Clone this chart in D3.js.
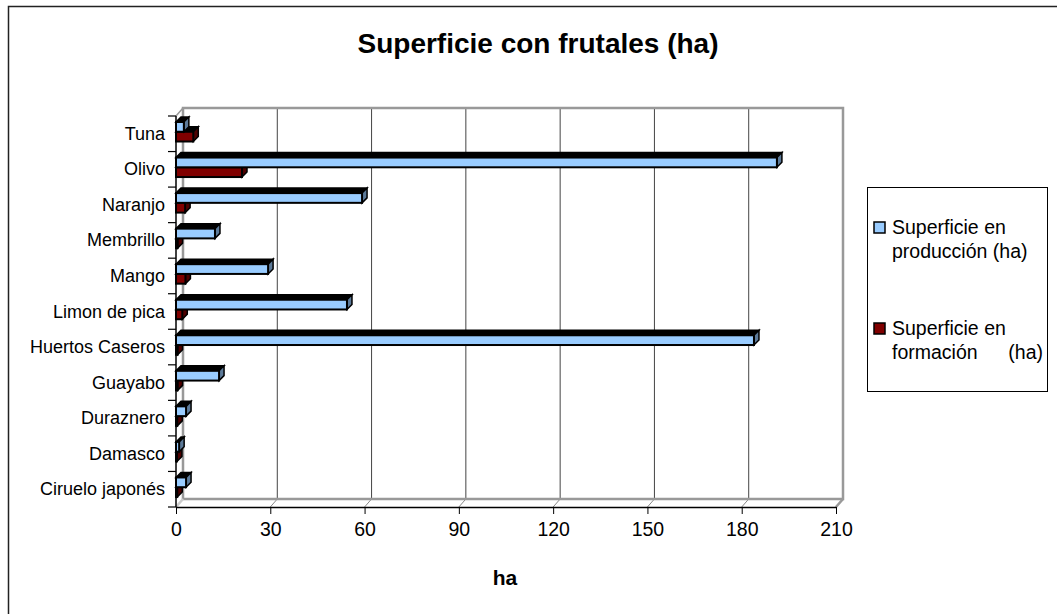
<!DOCTYPE html>
<html>
<head>
<meta charset="utf-8">
<script src="https://cdn.jsdelivr.net/npm/d3@7"></script>
<style>
  body { margin: 0; background: #fff; }
  text { font-family: "Liberation Sans", Arial, sans-serif; }
</style>
</head>
<body>
<div class="chart"></div>
<script>
// data, top to bottom
const categories = ['Tuna', 'Olivo', 'Naranjo', 'Membrillo', 'Mango', 'Limon de pica',
  'Huertos Caseros', 'Guayabo', 'Duraznero', 'Damasco', 'Ciruelo japonés'];
const produccion = [2.5, 191.2, 59.2, 12.4, 29.3, 54.4, 183.9, 13.7, 3.2, 1.0, 3.2];
const formacion = [5.5, 21, 2.9, 0.5, 3, 2, 0.5, 0.5, 0.4, 0.3, 0.4];
const seriesNames = ['Superficie en producción (ha)', 'Superficie en formación (ha)'];
const xTicks = [0, 30, 60, 90, 120, 150, 180, 210];

const width = 1057;
const height = 614;
const svg = d3.select('.chart')
  .append('svg')
  .attr('width', width)
  .attr('height', height);

// outer frame (runs off the right and bottom of the picture)
svg.append('rect')
  .attr('x', 8.5).attr('y', 6.5)
  .attr('width', 1070).attr('height', 630)
  .attr('fill', 'none')
  .attr('stroke', '#222')
  .attr('stroke-width', 1.5);

svg.append('text')
  .attr('x', 538).attr('y', 53)
  .attr('text-anchor', 'middle')
  .attr('font-size', '28px')
  .attr('font-weight', 'bold')
  .text('Superficie con frutales (ha)');

const x = d3.scaleLinear().domain([0, 210]).range([176, 836]);
const y0 = d3.scaleBand().domain(categories).range([116, 507]);
const y1 = d3.scaleBand().domain(['prod', 'form']).range([6, 25.5]);

const dx = 7, dy = 8;   // wall depth
const bdx = 5, bdy = 5; // bar depth
const yTop = y0.range()[0], yBot = y0.range()[1];
const xl = x(0), xr = x(210);

// back wall gridlines and floor connectors
const grid = svg.append('g');
xTicks.slice(1, -1).forEach(t => {
  grid.append('line')
    .attr('x1', x(t) + dx).attr('x2', x(t) + dx)
    .attr('y1', yTop - dy).attr('y2', yBot - dy)
    .attr('stroke', '#444').attr('stroke-width', 1);
});
xTicks.forEach(t => {
  grid.append('line')
    .attr('x1', x(t)).attr('y1', yBot)
    .attr('x2', x(t) + dx).attr('y2', yBot - dy)
    .attr('stroke', '#888').attr('stroke-width', 1);
});

// walls outline
const wall = svg.append('g').attr('fill', 'none').attr('stroke', '#999').attr('stroke-width', 2.5);
wall.append('polyline')
  .attr('points', [[xl + dx, yBot - dy], [xl + dx, yTop - dy], [xr + dx, yTop - dy], [xr + dx, yBot - dy], [xl + dx, yBot - dy]].join(' '));
wall.append('line')
  .attr('x1', xl).attr('y1', yTop).attr('x2', xl + dx).attr('y2', yTop - dy)
  .attr('stroke-width', 1.5);
wall.append('line')
  .attr('x1', xr).attr('y1', yBot).attr('x2', xr + dx).attr('y2', yBot - dy);
wall.append('line')
  .attr('x1', xl).attr('y1', yBot).attr('x2', xl + dx).attr('y2', yBot - dy)
  .attr('stroke', '#ccc');

// bars
const series = [
  { key: 'form', values: formacion, fill: '#800000', side: '#4d0000' },
  { key: 'prod', values: produccion, fill: '#99CCFF', side: '#5c7a99' }
];
series.forEach(s => {
  const g = svg.append('g');
  const rows = categories.map((c, i) => ({ cat: c, v: s.values[i] }));
  const bar = g.selectAll('g').data(rows).enter().append('g');
  const yt = d => y0(d.cat) + y1(s.key);
  const h = y1.bandwidth();
  bar.append('polygon')
    .attr('points', d => [[xl, yt(d)], [xl + bdx, yt(d) - bdy], [x(d.v) + bdx, yt(d) - bdy], [x(d.v), yt(d)]].join(' '))
    .attr('fill', '#000').attr('stroke', '#000').attr('stroke-width', 1.5);
  bar.append('polygon')
    .attr('points', d => [[x(d.v), yt(d)], [x(d.v) + bdx, yt(d) - bdy], [x(d.v) + bdx, yt(d) + h - bdy], [x(d.v), yt(d) + h]].join(' '))
    .attr('fill', s.side).attr('stroke', '#000').attr('stroke-width', 1.5);
  bar.append('rect')
    .attr('x', xl)
    .attr('y', d => yt(d))
    .attr('width', d => x(d.v) - xl)
    .attr('height', h)
    .attr('fill', s.fill)
    .attr('stroke', '#000')
    .attr('stroke-width', 2);
});

// category axis: ticks on band edges, labels in band centres
const yAxis = svg.append('g');
yAxis.append('line')
  .attr('x1', xl).attr('x2', xl).attr('y1', yTop).attr('y2', yBot)
  .attr('stroke', '#000').attr('stroke-width', 1.5);
const edges = categories.map(c => y0(c)).concat([yBot]);
yAxis.selectAll('.tk').data(edges).enter().append('line')
  .attr('x1', xl - 8).attr('x2', xl).attr('y1', d => d).attr('y2', d => d)
  .attr('stroke', '#000').attr('stroke-width', 1.2);
yAxis.selectAll('.lbl').data(categories).enter().append('text')
  .attr('x', 165)
  .attr('y', d => y0(d) + y0.bandwidth() / 2 + 6)
  .attr('text-anchor', 'end')
  .attr('font-size', '18px')
  .text(d => d);

// value axis
const xAxis = svg.append('g')
  .attr('transform', `translate(0,${yBot})`)
  .call(d3.axisBottom(x).tickValues(xTicks).tickSize(7).tickSizeOuter(0).tickPadding(8));
xAxis.select('.domain').attr('stroke', '#000').attr('stroke-width', 1.5);
xAxis.selectAll('.tick line').attr('stroke', '#000');
xAxis.selectAll('.tick text')
  .attr('font-size', '19.5px')
  .attr('fill', '#000')
  .attr('font-family', '"Liberation Sans", Arial, sans-serif');

svg.append('text')
  .attr('x', 505).attr('y', 585)
  .attr('text-anchor', 'middle')
  .attr('font-size', '21px')
  .attr('font-weight', 'bold')
  .text('ha');

// legend
const legend = svg.append('g');
legend.append('rect')
  .attr('x', 867.5).attr('y', 187.5)
  .attr('width', 180).attr('height', 204)
  .attr('fill', '#fff').attr('stroke', '#000').attr('stroke-width', 1);
const legItems = [
  { fill: '#99CCFF', l1: 'Superficie en', l2: 'producción (ha)', y: 222 },
  { fill: '#800000', l1: 'Superficie en', l2: 'formación', l2b: '(ha)', y: 323 }
];
legItems.forEach((d, i) => {
  legend.append('rect')
    .attr('x', 874).attr('y', d.y)
    .attr('width', 11).attr('height', 11)
    .attr('fill', d.fill).attr('stroke', '#000').attr('stroke-width', 1.5);
  legend.append('text')
    .attr('x', 892).attr('y', d.y + 12)
    .attr('font-size', '19.5px')
    .text(d.l1);
  legend.append('text')
    .attr('x', 892).attr('y', d.y + 36)
    .attr('font-size', '19.5px')
    .text(d.l2);
  if (d.l2b) {
    legend.append('text')
      .attr('x', 1043).attr('y', d.y + 36)
      .attr('text-anchor', 'end')
      .attr('font-size', '19.5px')
      .text(d.l2b);
  }
});
</script>
</body>
</html>
